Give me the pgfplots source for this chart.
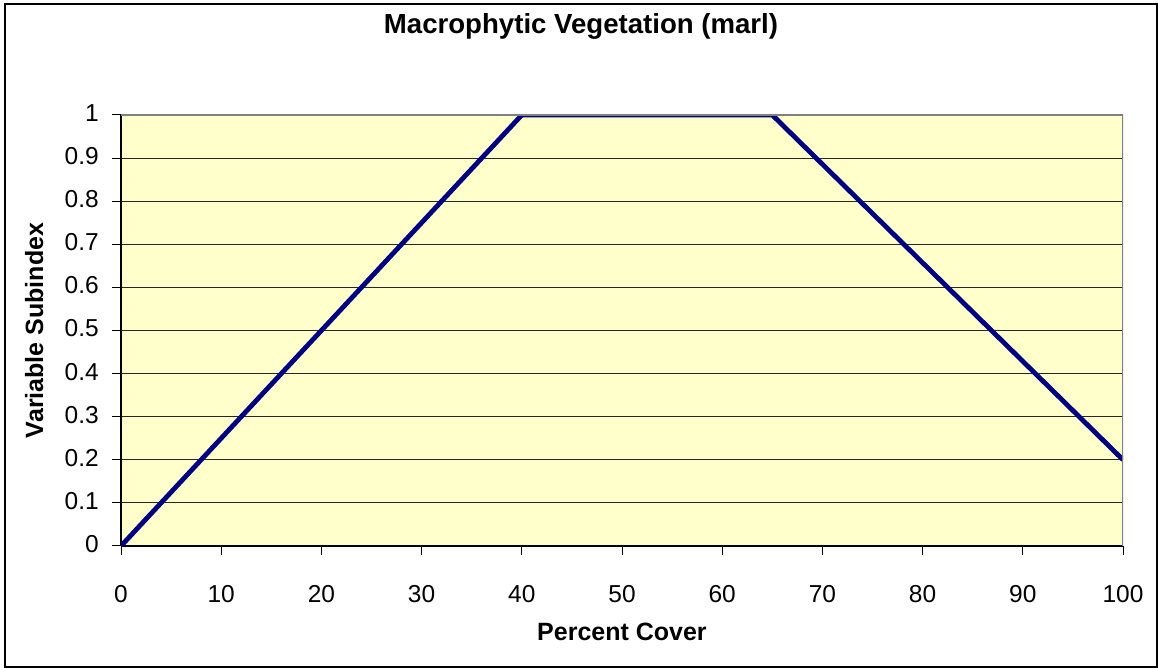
\documentclass[border=0pt]{standalone}
\usepackage{fontspec}
\setmainfont{Liberation Sans}
\usepackage{pgfplots}
\pgfplotsset{compat=1.18}
\definecolor{plotbg}{HTML}{FFFFCC}
\definecolor{navyline}{HTML}{000080}
\definecolor{boxgray}{HTML}{808080}

\begin{document}
\begin{tikzpicture}
\useasboundingbox (0,0) rectangle (1158pt,668pt);
\begin{axis}[
    at={(121pt,122pt)},
    anchor=south west,
    scale only axis,
    width=1002pt,
    height=431pt,
    xmin=0, xmax=100,
    ymin=0, ymax=1,
    xtick={0,10,...,100},
    ytick={0,0.1,...,1},
    axis x line*=bottom,
    axis y line*=left,
    axis line style={black, line width=1.2pt},
    tick align=outside,
    major tick length=9pt,
    tick style={black, line width=1pt},
    axis background/.style={fill=plotbg},
    ymajorgrids=true,
    major grid style={black!85, line width=0.9pt},
    /pgf/number format/assume math mode=true,
    ticklabel style={font=\fontsize{24.5}{29}\selectfont},
    yticklabel style={anchor=east, xshift=-13pt, yshift=2pt, inner sep=0pt},
    xticklabel style={anchor=base, inner sep=0pt, yshift=-47pt},
    title={\textbf{Macrophytic Vegetation (marl)}},
    title style={at={(axis description cs:0.4591,1.1740)}, anchor=base,
      font=\fontsize{27.6}{32}\selectfont, inner sep=0pt},
    xlabel={\textbf{Percent Cover}},
    xlabel style={at={(axis description cs:0.5,-0.2204)}, anchor=base,
      font=\fontsize{25}{30}\selectfont, inner sep=0pt},
    ylabel={\textbf{Variable Subindex}},
    ylabel style={at={(axis description cs:-0.0778,0.5)}, anchor=base, rotate=0,
      font=\fontsize{25}{30}\selectfont, inner sep=0pt},
]
\addplot[navyline, line width=4.8pt, line join=round] coordinates {
    (0,0) (40,1) (65,1) (100,0.2)
};
\draw[boxgray, line width=1.2pt] (rel axis cs:0,1) -- (rel axis cs:1,1) -- (rel axis cs:1,0);
\end{axis}
\draw[black, line width=1.6pt] (5pt,1pt) rectangle (1157pt,664pt);
\end{tikzpicture}
\end{document}
